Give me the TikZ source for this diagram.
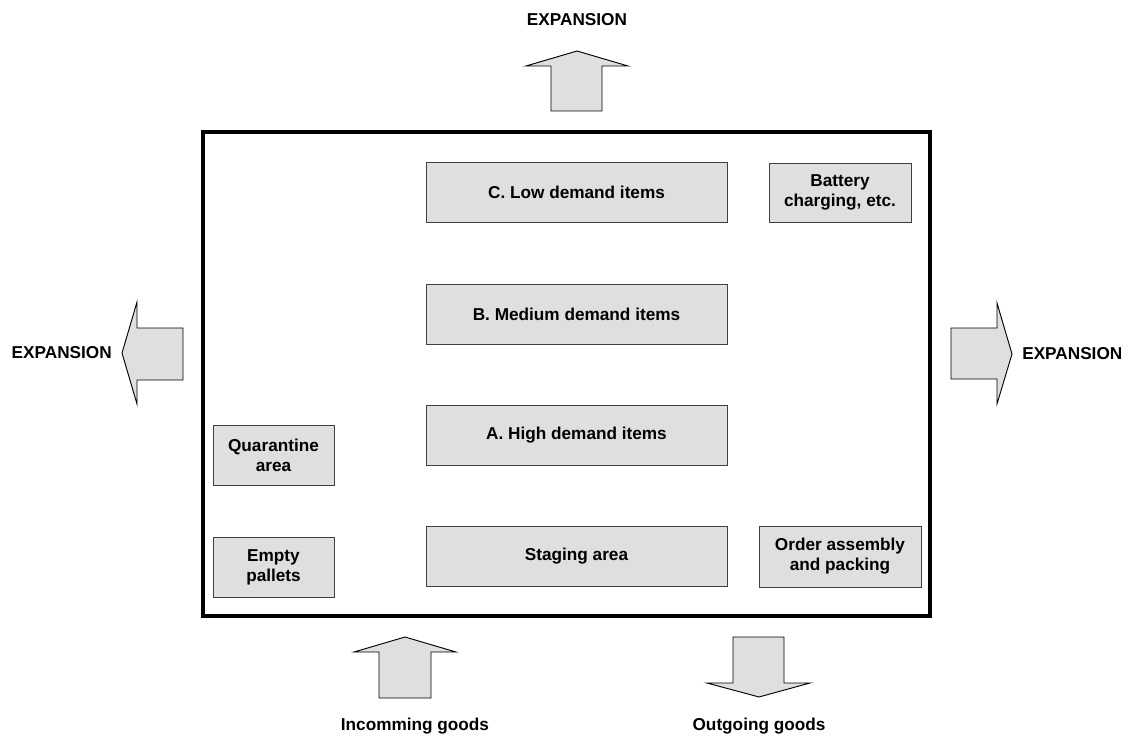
\documentclass[tikz,border=0pt]{standalone}
\usepackage{fontspec}
\setmainfont{Liberation Sans}
\definecolor{boxfill}{HTML}{DFDFDF}
\definecolor{boxline}{HTML}{404040}
\begin{document}
\begin{tikzpicture}[x=0.75pt,y=-0.75pt,
  lbl/.style={font=\fontsize{12.9pt}{15pt}\selectfont\bfseries, inner sep=0pt},
  box/.style={lbl, draw=boxline, fill=boxfill, line width=0.7pt, align=center},
  bigarrow/.style={draw=black, fill=boxfill, line width=0.7pt, line join=miter}]
\useasboundingbox (0,0) rectangle (1128,738);
% warehouse outline
\draw[line width=2.3pt] (203,132) rectangle (930,616);
% areas
\node[box, minimum width=225.75pt, minimum height=45pt] (c) at (576.5,192.5) {C. Low demand items};
\node[box, minimum width=106.5pt, minimum height=44.25pt] (bat) at (840,192.5) {Battery\\charging, etc.};
\node[box, minimum width=225.75pt, minimum height=45pt] (b) at (576.5,314) {B. Medium demand items};
\node[box, minimum width=225.75pt, minimum height=45pt] (a) at (576.5,435) {A. High demand items};
\node[box, minimum width=225.75pt, minimum height=45pt] (stg) at (576.5,556) {Staging area};
\node[box, minimum width=90.75pt, minimum height=45pt] (q) at (273.5,455) {Quarantine\\area};
\node[box, minimum width=90.75pt, minimum height=45pt] (emp) at (273.5,567) {Empty\\pallets};
\node[box, minimum width=121.5pt, minimum height=45.75pt] (ord) at (840,556.5) {Order assembly\\and packing};
% expansion arrows
\draw[bigarrow] (551,111)--(551,66)--(526,66)--(577,51)--(628,66)--(602,66)--(602,111)--cycle;
\draw[bigarrow] (183,328)--(137,328)--(137,302)--(122,353)--(137,404)--(137,380)--(183,380)--cycle;
\draw[bigarrow] (951,328)--(997,328)--(997,303)--(1012,354)--(997,404)--(997,379)--(951,379)--cycle;
\draw[bigarrow] (379,698)--(379,652)--(354,652)--(405,637)--(456,652)--(431,652)--(431,698)--cycle;
\draw[bigarrow] (733,637)--(733,683)--(707,683)--(759,697)--(810,683)--(784,683)--(784,637)--cycle;
% labels
\node[lbl] (et) at (577,20) {EXPANSION};
\node[lbl, anchor=east] (el) at (112,353) {EXPANSION};
\node[lbl, anchor=west] (er) at (1022,354) {EXPANSION};
\node[lbl] (in) at (415,726) {Incomming goods};
\node[lbl] (out) at (759,726) {Outgoing goods};
\end{tikzpicture}
\end{document}
